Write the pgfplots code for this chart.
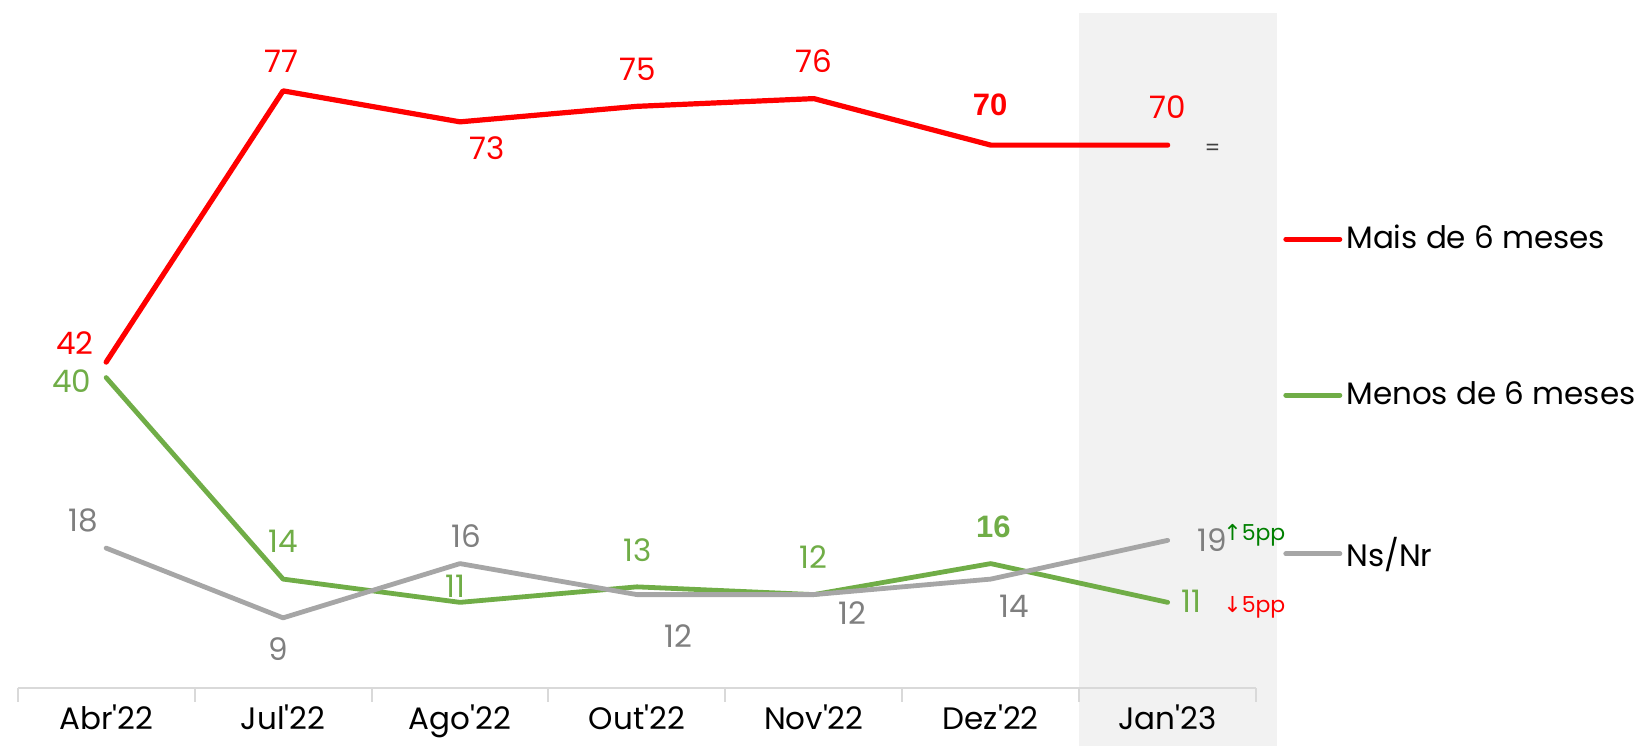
\documentclass[border=0pt]{standalone}
\usepackage{fontspec}
\setmainfont{Poppins}
\newfontfamily\arial{Liberation Sans}
\newfontfamily\dejavu{DejaVu Sans}
\usepackage{pgfplots}
\pgfplotsset{compat=1.18}
\definecolor{cred}{HTML}{FF0000}
\definecolor{cgreen}{HTML}{70AD47}
\definecolor{cgray}{HTML}{A6A6A6}
\definecolor{cgraytxt}{HTML}{7F7F7F}
\definecolor{cshade}{HTML}{F2F2F2}
\definecolor{caxis}{HTML}{D9D9D9}
\definecolor{cdkgreen}{HTML}{008000}
\definecolor{ceq}{HTML}{404040}
\newcommand{\q}{\textquotesingle}
\begin{document}
\fontsize{15.5}{18}\selectfont
\begin{tikzpicture}
\useasboundingbox (-8.85pt,-28.7pt) rectangle (809.15pt,343.8pt);
\begin{axis}[
  scale only axis, width=619.2pt, height=341pt,
  xmin=-0.5, xmax=6.5, ymin=0, ymax=88,
  axis x line*=bottom, axis y line=none,
  axis on top,
  x axis line style={draw=caxis, line width=1pt},
  xtick={0,...,6},
  xticklabels={Abr\q22,Jul\q22,Ago\q22,Out\q22,Nov\q22,Dez\q22,Jan\q23},
  minor xtick={-0.5,0.5,...,6.5},
  major tick length=0pt, minor tick length=7pt, tick align=outside,
  minor tick style={draw=caxis, line width=1pt},
  xticklabel style={font=\fontsize{15.5}{18}\selectfont, yshift=-7.5pt, inner sep=1pt, text=black},
  clip=false,
  legend style={at={(axis description cs:1.0168,0.6905)}, anchor=north west,
    draw=none, fill=none, row sep=60pt, font=\fontsize{15.5}{18}\selectfont,
    cells={anchor=west}},
  legend image code/.code={\draw[#1, line width=2.5pt] (0pt,0pt)--(27pt,0pt);},
]
\fill[cshade] (axis cs:5.5,-8) rectangle (axis cs:6.62,87.1);
\addplot[cred, line width=2.6pt, line join=round, line cap=round] coordinates {(0,42)(1,77)(2,73)(3,75)(4,76)(5,70)(6,70)};
\addlegendentry{Mais de 6 meses}
\addplot[cgreen, line width=2.4pt, line join=round, line cap=round] coordinates {(0,40)(1,14)(2,11)(3,13)(4,12)(5,16)(6,11)};
\addlegendentry{Menos de 6 meses}
\addplot[cgray, line width=2.4pt, line join=round, line cap=round] coordinates {(0,18)(1,9)(2,16)(3,12)(4,12)(5,14)(6,19)};
\addlegendentry{Ns/Nr}
% labels Mais
\begin{scope}[every node/.style={text=cred, inner sep=0pt}]
\node at (axis cs:-0.177,44.4) {42};
\node at (axis cs:0.991,80.8) {77};
\node at (axis cs:2.153,69.6) {73};
\node at (axis cs:3.003,79.8) {75};
\node at (axis cs:4.0,80.8) {76};
\node at (axis cs:4.997,75.2) {\arial\bfseries 70};
\node at (axis cs:6.0,74.9) {70};
\end{scope}
\node[text=ceq, font=\fontsize{11}{13}\selectfont] at (axis cs:6.254,69.4) {=};
\begin{scope}[every node/.style={text=cgreen, inner sep=0pt}]
\node at (axis cs:-0.195,39.5) {40};
\node at (axis cs:1.003,18.9) {14};
\node at (axis cs:1.976,13.1) {11};
\node at (axis cs:3.003,17.8) {13};
\node at (axis cs:4.0,16.9) {12};
\node at (axis cs:5.015,20.8) {\arial\bfseries 16};
\node at (axis cs:6.136,11.1) {11};
\end{scope}
\node[text=cred, inner sep=0pt, font=\fontsize{11}{13}\selectfont] at (axis cs:6.49,10.3) {{\dejavu ↓}5pp};
\begin{scope}[every node/.style={text=cgraytxt, inner sep=0pt}]
\node at (axis cs:-0.13,21.6) {18};
\node at (axis cs:0.973,5.0) {9};
\node at (axis cs:2.035,19.6) {16};
\node at (axis cs:3.233,6.7) {12};
\node at (axis cs:4.218,9.6) {12};
\node at (axis cs:5.133,10.5) {14};
\node at (axis cs:6.254,19.0) {19};
\end{scope}
\node[text=cdkgreen, inner sep=0pt, font=\fontsize{11}{13}\selectfont] at (axis cs:6.49,19.6) {{\dejavu ↑}5pp};
\end{axis}
\end{tikzpicture}
\end{document}
